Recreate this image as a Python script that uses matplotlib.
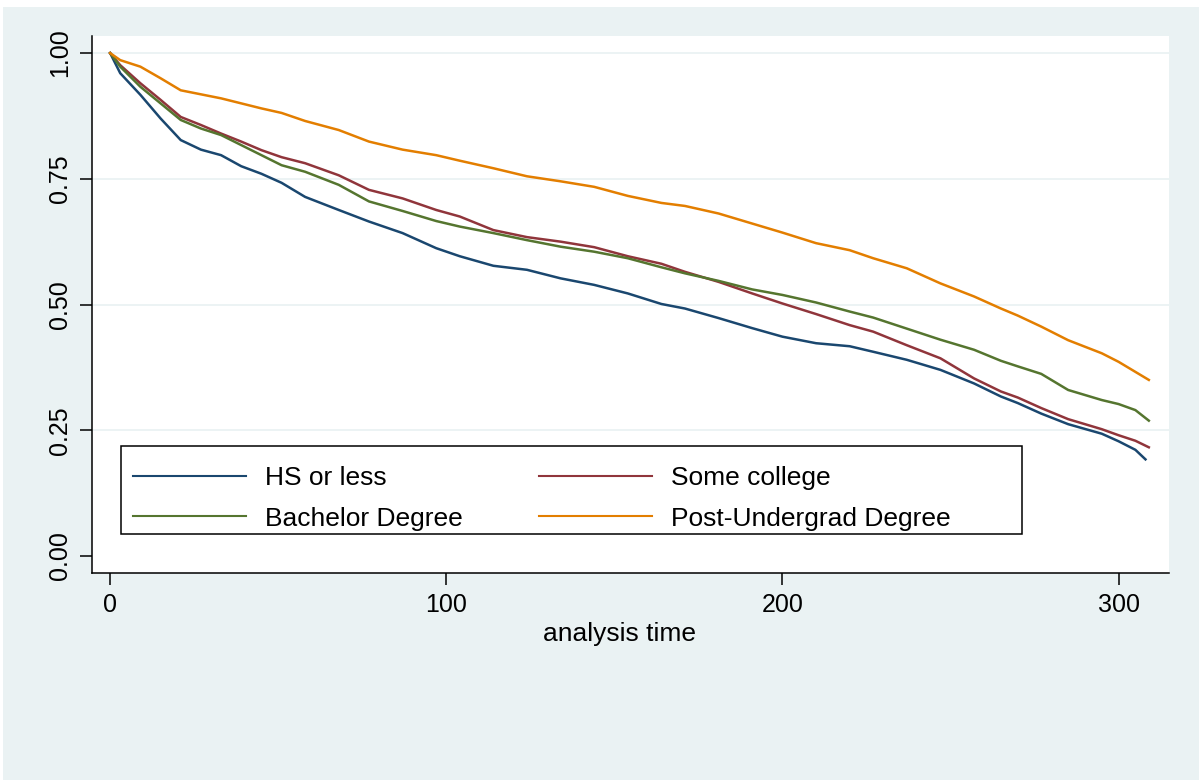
import matplotlib.pyplot as plt
from matplotlib.patches import Rectangle

plt.rcParams['font.family'] = ['Liberation Sans', 'DejaVu Sans']

# Kaplan-Meier survivor estimates by education group
t_hs = [0, 3, 9, 15, 21, 27, 33, 39, 45, 51, 58, 68, 77, 87, 97, 104, 114, 124,
        134, 144, 154, 164, 171, 181, 191, 200, 210, 220, 227, 237, 247, 257,
        265, 270, 277, 285, 295, 300, 305, 308]
s_hs = [1.0, 0.960, 0.917, 0.870, 0.827, 0.808, 0.797, 0.775, 0.760, 0.742,
        0.714, 0.688, 0.665, 0.642, 0.612, 0.596, 0.577, 0.569, 0.552, 0.539,
        0.522, 0.501, 0.492, 0.473, 0.453, 0.436, 0.423, 0.417, 0.406, 0.390,
        0.370, 0.343, 0.317, 0.304, 0.283, 0.262, 0.243, 0.228, 0.211, 0.192]

t_grp = [0, 3, 9, 15, 21, 27, 33, 39, 45, 51, 58, 68, 77, 87, 97, 104, 114, 124,
         134, 144, 154, 164, 171, 181, 191, 200, 210, 220, 227, 237, 247, 257,
         265, 270, 277, 285, 295, 300, 305, 309]
s_some = [1.0, 0.976, 0.940, 0.907, 0.873, 0.857, 0.840, 0.824, 0.807, 0.793,
          0.781, 0.757, 0.728, 0.711, 0.688, 0.675, 0.648, 0.634, 0.625, 0.614,
          0.596, 0.581, 0.565, 0.545, 0.522, 0.502, 0.481, 0.459, 0.446, 0.419,
          0.393, 0.353, 0.327, 0.315, 0.294, 0.272, 0.252, 0.240, 0.229, 0.216]
s_bach = [1.0, 0.973, 0.933, 0.900, 0.867, 0.850, 0.837, 0.817, 0.797, 0.777,
          0.764, 0.738, 0.705, 0.686, 0.666, 0.655, 0.642, 0.628, 0.615, 0.605,
          0.592, 0.574, 0.562, 0.547, 0.530, 0.519, 0.504, 0.486, 0.474, 0.452,
          0.430, 0.410, 0.388, 0.377, 0.362, 0.330, 0.310, 0.302, 0.290, 0.269]
s_post = [1.0, 0.986, 0.973, 0.950, 0.926, 0.918, 0.910, 0.900, 0.890, 0.881,
          0.865, 0.847, 0.824, 0.808, 0.797, 0.786, 0.771, 0.755, 0.745, 0.734,
          0.716, 0.702, 0.696, 0.681, 0.661, 0.643, 0.622, 0.608, 0.592, 0.572,
          0.542, 0.516, 0.492, 0.478, 0.456, 0.429, 0.403, 0.386, 0.366, 0.350]

labels = ['HS or less', 'Some college', 'Bachelor Degree', 'Post-Undergrad Degree']
colors = ['#1A476F', '#90353B', '#55752F', '#E37E00']
x_ticks = [0, 100, 200, 300]
y_ticks = [0, 0.25, 0.5, 0.75, 1.0]

bg = '#EAF2F3'
fig = plt.figure(figsize=(11.99, 7.8), dpi=100, facecolor='white')
fig.patches.append(Rectangle((3 / 1199, 0), 1, 773 / 780, transform=fig.transFigure,
                             facecolor=bg, edgecolor='none', zorder=-1))

ax = fig.add_axes([92 / 1199, 1 - 573 / 780, 1077 / 1199, 537 / 780])
ax.set_facecolor('white')

for y in y_ticks[1:]:
    ax.axhline(y, color=bg, lw=1.3, zorder=0)

lines = {}
series = [(t_hs, s_hs), (t_grp, s_some), (t_grp, s_bach), (t_grp, s_post)]
for (t, s), lab, c in zip(series, labels, colors):
    lines[lab], = ax.plot(t, s, color=c, lw=1.8, label=lab)

ax.set_xlim(-5.4, 315)
ax.set_ylim(-0.034, 1.034)
ax.set_xticks(x_ticks)
ax.set_yticks(y_ticks)
ax.set_yticklabels([f'{v:.2f}' for v in y_ticks], rotation=90, va='center')
ax.tick_params(labelsize=18, length=8.5, width=1.1, direction='out', pad=6)
for side in ['top', 'right']:
    ax.spines[side].set_visible(False)
for side in ['left', 'bottom']:
    ax.spines[side].set_linewidth(1.1)
ax.set_xlabel('analysis time', fontsize=19, va='center')
ax.xaxis.set_label_coords(0.490, -0.1136)

# legend box drawn on its own so it can be wider than the entries
ax.add_patch(Rectangle((0.0269, 0.0726), 0.8366, 0.164, transform=ax.transAxes,
                       facecolor='white', edgecolor='black', lw=1.1, zorder=3))
order = ['HS or less', 'Bachelor Degree', 'Some college', 'Post-Undergrad Degree']
leg = ax.legend([lines[k] for k in order], order, ncol=2, fontsize=19,
                loc='upper left', bbox_to_anchor=(0.0381, 0.1993),
                borderaxespad=0, borderpad=0, frameon=False,
                handlelength=4.28, handletextpad=0.72, labelspacing=0.63,
                columnspacing=2.9)
leg.set_zorder(4)
for h in leg.get_lines():
    h.set_linewidth(1.5)

fig.savefig('out.png', dpi=100, facecolor=fig.get_facecolor())
